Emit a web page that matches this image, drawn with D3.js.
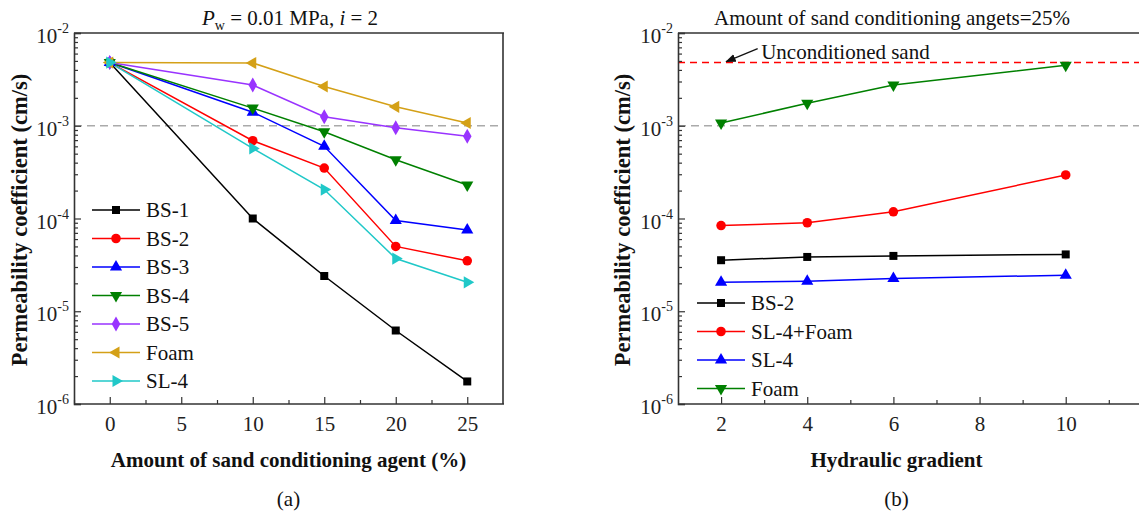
<!DOCTYPE html>
<html>
<head>
<meta charset="utf-8">
<script src="https://cdn.jsdelivr.net/npm/d3@7"></script>
<style>
  body { margin: 0; background: #fff; }
  svg { font-family: "Liberation Serif", "Times New Roman", serif; }
</style>
</head>
<body>
<svg id="svg" width="1139" height="514"></svg>
<script>
// panel (a): permeability vs amount of conditioning agent
const agentPct = [0, 10, 15, 20, 25];
const bs1 = [4.8e-3, 1.0e-4, 2.4e-5, 6.2e-6, 1.75e-6];
const bs2 = [4.8e-3, 6.9e-4, 3.5e-4, 5.0e-5, 3.5e-5];
const bs3 = [4.8e-3, 1.4e-3, 6.0e-4, 9.5e-5, 7.5e-5];
const bs4 = [4.8e-3, 1.55e-3, 8.6e-4, 4.3e-4, 2.3e-4];
const bs5 = [4.8e-3, 2.75e-3, 1.25e-3, 9.5e-4, 7.7e-4];
const foam = [4.8e-3, 4.75e-3, 2.65e-3, 1.6e-3, 1.07e-3];
const sl4 = [4.8e-3, 5.7e-4, 2.05e-4, 3.7e-5, 2.05e-5];
const namesA = ["BS-1", "BS-2", "BS-3", "BS-4", "BS-5", "Foam", "SL-4"];

// panel (b): permeability vs hydraulic gradient (25% agent)
const gradient = [2, 4, 6, 10];
const bs2B = [3.55e-5, 3.85e-5, 3.95e-5, 4.1e-5];
const sl4FoamB = [8.4e-5, 9.0e-5, 1.18e-4, 2.95e-4];
const sl4B = [2.05e-5, 2.1e-5, 2.25e-5, 2.45e-5];
const foamB = [1.07e-3, 1.75e-3, 2.75e-3, 4.5e-3];
const namesB = ["BS-2", "SL-4+Foam", "SL-4", "Foam"];

const unconditioned = 4.8e-3;
const threshold = 1e-3;
const yTicks = [1e-2, 1e-3, 1e-4, 1e-5, 1e-6];
const xTicksA = [0, 5, 10, 15, 20, 25];
const xTicksB = [2, 4, 6, 8, 10];

var svg = d3.select("#svg");
var plotTop = 33, plotBottom = 404; // "top" is taken by window.top
var axisColor = "#333";

var marker = {
  square:   {type: d3.symbolSquare, rot: 0, size: 64},
  circle:   {type: d3.symbolCircle, rot: 0, size: 72},
  up:       {type: d3.symbolTriangle, rot: 0, size: 64},
  down:     {type: d3.symbolTriangle, rot: 180, size: 64},
  diamond:  {type: d3.symbolDiamond, rot: 0, size: 64},
  left:     {type: d3.symbolTriangle, rot: -90, size: 64},
  right:    {type: d3.symbolTriangle, rot: 90, size: 64}
};

var drawPanel = function(opt) {
  var x = d3.scaleLinear().domain(opt.xDomain).range([opt.left, opt.right]);
  var y = d3.scaleLog().domain([1e-6, 1e-2]).range([plotBottom, plotTop]);
  var g = svg.append("g");

  var clipId = "clip" + opt.tag;
  svg.append("clipPath").attr("id", clipId)
    .append("rect")
      .attr("x", opt.left).attr("y", plotTop)
      .attr("width", opt.right - opt.left).attr("height", plotBottom - plotTop);

  // reference dashed lines
  g.append("line")
      .attr("x1", opt.left).attr("x2", opt.right)
      .attr("y1", y(threshold)).attr("y2", y(threshold))
      .attr("stroke", "#aaa").attr("stroke-width", 1.6)
      .attr("stroke-dasharray", "8,5");
  if (opt.redLine) {
    g.append("line")
        .attr("x1", opt.left).attr("x2", opt.right)
        .attr("y1", y(unconditioned)).attr("y2", y(unconditioned))
        .attr("stroke", "#ff0000").attr("stroke-width", 1.6)
        .attr("stroke-dasharray", "7,5");
  }

  // series
  var line = d3.line().x(d => x(d[0])).y(d => y(d[1]));
  var plot = g.append("g").attr("clip-path", "url(#" + clipId + ")");
  opt.series.forEach(function(s) {
    var pts = opt.xs.map((v, i) => [v, s.values[i]]);
    plot.append("path")
        .datum(pts)
        .attr("fill", "none")
        .attr("stroke", s.color)
        .attr("stroke-width", 1.5)
        .attr("d", line);
  });
  opt.series.forEach(function(s) {
    var m = marker[s.marker];
    var pts = opt.xs.map((v, i) => [v, s.values[i]]);
    g.append("g").selectAll("path")
      .data(pts)
      .join("path")
        .attr("fill", s.color)
        .attr("d", d3.symbol().type(m.type).size(m.size))
        .attr("transform", d => "translate(" + x(d[0]) + "," + y(d[1]) + ") rotate(" + m.rot + ")");
  });

  // frame
  g.append("line").attr("x1", opt.left).attr("x2", opt.right + 1)
      .attr("y1", plotTop).attr("y2", plotTop)
      .attr("stroke", axisColor).attr("stroke-width", 1.6);
  if (opt.rightFrame) {
    g.append("line").attr("x1", opt.right).attr("x2", opt.right)
        .attr("y1", plotTop).attr("y2", plotBottom)
        .attr("stroke", axisColor).attr("stroke-width", 1.6);
  }

  // y axis
  var yAxis = g.append("g")
      .attr("transform", "translate(" + opt.left + ",0)")
      .call(d3.axisLeft(y).tickValues(yTicks).tickSize(-7).tickFormat(""));
  var minors = [];
  for (var e = -6; e < -2; e++) for (var k = 2; k < 10; k++) minors.push(k * Math.pow(10, e));
  g.append("g")
      .attr("transform", "translate(" + opt.left + ",0)")
      .call(d3.axisLeft(y).tickValues(minors).tickSize(-4).tickFormat(""))
      .call(a => a.select(".domain").remove());
  yAxis.select(".domain").attr("stroke", axisColor).attr("stroke-width", 1.6);
  g.selectAll(".tick line").attr("stroke", axisColor).attr("stroke-width", 1.2);
  yTicks.forEach(function(v) {
    var t = g.append("text")
        .attr("x", opt.left - 5)
        .attr("y", y(v) + 10)
        .attr("text-anchor", "end")
        .attr("fill", "#222")
        .style("font-size", "21px");
    t.append("tspan").text("10");
    t.append("tspan").attr("dy", -10).style("font-size", "14px").text("-" + Math.round(-Math.log10(v)));
  });

  // x axis
  var xAxis = g.append("g")
      .attr("transform", "translate(0," + plotBottom + ")")
      .call(d3.axisBottom(x).tickValues(opt.xTicks).tickSize(-7).tickPadding(12));
  xAxis.select(".domain").attr("stroke", axisColor).attr("stroke-width", 1.6)
      .attr("d", "M" + opt.left + ",0H" + (opt.right + 1));
  xAxis.selectAll(".tick line").attr("stroke", axisColor).attr("stroke-width", 1.2);
  xAxis.selectAll("text")
      .attr("fill", "#222")
      .style("font-family", "Liberation Serif, serif")
      .style("font-size", "21px");
  g.append("g")
      .attr("transform", "translate(0," + plotBottom + ")")
      .call(d3.axisBottom(x).tickValues(opt.xMinor).tickSize(-4).tickFormat(""))
      .call(a => a.select(".domain").remove())
      .selectAll(".tick line").attr("stroke", axisColor).attr("stroke-width", 1.2);

  // axis titles
  g.append("text")
      .attr("x", (opt.left + opt.xTitleRight) / 2)
      .attr("y", 467)
      .attr("text-anchor", "middle")
      .attr("font-weight", "bold")
      .attr("fill", "#111")
      .style("font-size", "21px")
      .text(opt.xTitle);
  g.append("text")
      .attr("transform", "translate(" + opt.yTitleX + ",220) rotate(-90)")
      .attr("text-anchor", "middle")
      .attr("font-weight", "bold")
      .attr("fill", "#111")
      .style("font-size", "22.5px")
      .text("Permeability coefficient (cm/s)");
  g.append("text")
      .attr("x", (opt.left + opt.xTitleRight) / 2)
      .attr("y", 506)
      .attr("text-anchor", "middle")
      .attr("fill", "#111")
      .style("font-size", "21px")
      .text(opt.label);

  // legend
  var lg = g.append("g").attr("transform", "translate(" + opt.legendX + "," + opt.legendY + ")");
  opt.series.forEach(function(s, i) {
    var m = marker[s.marker];
    var row = lg.append("g").attr("transform", "translate(0," + (i * opt.legendGap) + ")");
    row.append("line").attr("x1", 0).attr("x2", 48)
        .attr("stroke", s.color).attr("stroke-width", 1.5);
    row.append("path")
        .attr("fill", s.color)
        .attr("d", d3.symbol().type(m.type).size(m.size))
        .attr("transform", "translate(24,0) rotate(" + m.rot + ")");
    row.append("text")
        .attr("x", 54).attr("y", 7)
        .attr("fill", "#111")
        .style("font-size", "21px")
        .text(s.name);
  });

  return {x: x, y: y, g: g};
};

var colA = ["#000000", "#ff0000", "#0000ff", "#008000", "#9933ff", "#d4a017", "#20c8c8"];
var mkA = ["square", "circle", "up", "down", "diamond", "left", "right"];
var valsA = [bs1, bs2, bs3, bs4, bs5, foam, sl4];

drawPanel({
  tag: "a",
  left: 74, right: 503, xTitleRight: 503,
  xDomain: [-2.5, 27.5],
  xs: agentPct,
  xTicks: xTicksA,
  xMinor: [-2.5, 2.5, 7.5, 12.5, 17.5, 22.5],
  series: valsA.map((v, i) => ({name: namesA[i], values: v, color: colA[i], marker: mkA[i]})),
  rightFrame: true,
  redLine: false,
  xTitle: "Amount of sand conditioning agent (%)",
  yTitleX: 27,
  label: "(a)",
  legendX: 92, legendY: 210, legendGap: 28.5
});

var colB = ["#000000", "#ff0000", "#0000ff", "#008000"];
var mkB = ["square", "circle", "up", "down"];
var valsB = [bs2B, sl4FoamB, sl4B, foamB];

var pb = drawPanel({
  tag: "b",
  left: 678, right: 1150, xTitleRight: 1115,
  xDomain: [1, 1 + (1150 - 678) / 43.08],
  xs: gradient,
  xTicks: xTicksB,
  xMinor: [3, 5, 7, 9, 11],
  series: valsB.map((v, i) => ({name: namesB[i], values: v, color: colB[i], marker: mkB[i]})),
  rightFrame: false,
  redLine: true,
  xTitle: "Hydraulic gradient",
  yTitleX: 630,
  label: "(b)",
  legendX: 697, legendY: 303, legendGap: 28.5
});

// titles
var tA = svg.append("text")
    .attr("x", 290).attr("y", 25)
    .attr("text-anchor", "middle")
    .attr("fill", "#111")
    .style("font-size", "21px");
tA.append("tspan").attr("font-style", "italic").text("P");
tA.append("tspan").attr("dy", 5).style("font-size", "14px").text("w");
tA.append("tspan").attr("dy", -5).text(" = 0.01 MPa, ");
tA.append("tspan").attr("font-style", "italic").text("i");
tA.append("tspan").text(" = 2");

svg.append("text")
    .attr("x", 892).attr("y", 25)
    .attr("text-anchor", "middle")
    .attr("fill", "#111")
    .style("font-size", "21px")
    .text("Amount of sand conditioning angets=25%");

// annotation with arrow
svg.append("defs").append("marker")
    .attr("id", "arrow")
    .attr("viewBox", "0 0 10 10")
    .attr("refX", 9).attr("refY", 5)
    .attr("markerWidth", 8).attr("markerHeight", 8)
    .attr("orient", "auto")
  .append("path")
    .attr("d", "M0,1L10,5L0,9Z")
    .attr("fill", "#111");
var uy = pb.y(unconditioned);
svg.append("line")
    .attr("x1", pb.x(2.85)).attr("y1", uy - 14)
    .attr("x2", pb.x(2.12)).attr("y2", uy - 1)
    .attr("stroke", "#111").attr("stroke-width", 1.3)
    .attr("marker-end", "url(#arrow)");
svg.append("text")
    .attr("x", pb.x(2.93)).attr("y", uy - 4)
    .attr("fill", "#111")
    .style("font-size", "21px")
    .text("Unconditioned sand");
</script>
</body>
</html>
